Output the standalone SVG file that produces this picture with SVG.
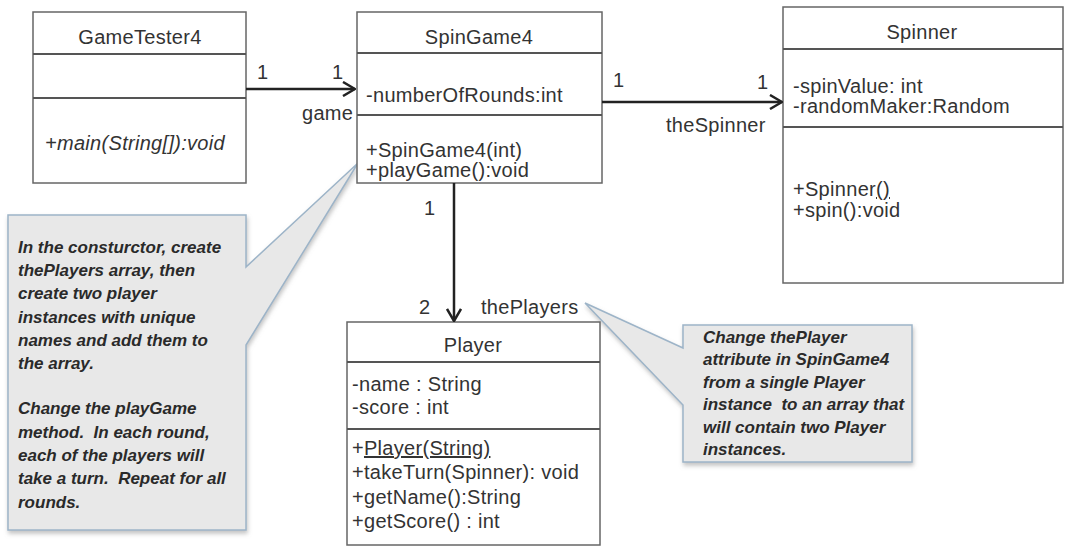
<svg xmlns="http://www.w3.org/2000/svg" width="1071" height="551" viewBox="0 0 1071 551">
<defs>
<marker id="arr" viewBox="0 0 14 16" refX="13" refY="8" markerWidth="14" markerHeight="16" markerUnits="userSpaceOnUse" orient="auto">
<path d="M1,1 L13,8 L1,15" fill="none" stroke="#222" stroke-width="2.5"/>
</marker>
<filter id="sh" x="-5%" y="-5%" width="115%" height="115%">
<feDropShadow dx="1" dy="3" stdDeviation="2" flood-color="#888" flood-opacity="0.5"/>
</filter>
</defs>
<style>
.box{fill:#fff;stroke:#666;stroke-width:1.5}
.div{stroke:#555;stroke-width:2}
.t{font-family:"Liberation Sans",Arial,sans-serif;font-size:20px;letter-spacing:0.3px;fill:#333}
.c{text-anchor:middle}
.i{font-style:italic}
.note{fill:#e8e8e8;stroke:#9db4c8;stroke-width:1.5}
.n{font-family:"Liberation Sans",Arial,sans-serif;font-size:17px;font-weight:bold;font-style:italic;fill:#2a2a2a;white-space:pre}
.conn{stroke:#222;stroke-width:2.5;fill:none}
</style>
<g id="note1">
<path class="note" filter="url(#sh)" d="M8,215 H246 V267 L358,163 L246,345 V530 H8 Z"/>
<text class="n" x="18" y="253">In the consturctor, create</text>
<text class="n" x="18" y="276">thePlayers array, then</text>
<text class="n" x="18" y="299">create two player</text>
<text class="n" x="18" y="323">instances with unique</text>
<text class="n" x="18" y="346">names and add them to</text>
<text class="n" x="18" y="369">the array.</text>
<text class="n" x="18" y="414">Change the playGame</text>
<text class="n" x="18" y="438">method.  In each round,</text>
<text class="n" x="18" y="461">each of the players will</text>
<text class="n" x="18" y="484">take a turn.  Repeat for all</text>
<text class="n" x="18" y="508">rounds.</text>
</g>
<g id="note2">
<path class="note" filter="url(#sh)" d="M683,325 H912 V462 H683 V405 L585,303 L683,348 Z"/>
<text class="n" x="703" y="343">Change thePlayer</text>
<text class="n" x="703" y="365">attribute in SpinGame4</text>
<text class="n" x="703" y="388">from a single Player</text>
<text class="n" x="703" y="410">instance  to an array that</text>
<text class="n" x="703" y="433">will contain two Player</text>
<text class="n" x="703" y="455">instances.</text>
</g>
<g id="GameTester4">
<rect class="box" x="33" y="12" width="213" height="171"/>
<line class="div" x1="33" y1="54" x2="246" y2="54"/>
<line class="div" x1="33" y1="98" x2="246" y2="98"/>
<text class="t c" x="140" y="44">GameTester4</text>
<text class="t i" x="45" y="150">+main(String[]):void</text>
</g>
<g id="SpinGame4">
<rect class="box" x="357" y="12" width="245" height="171"/>
<line class="div" x1="357" y1="53" x2="602" y2="53"/>
<line class="div" x1="357" y1="115" x2="602" y2="115"/>
<text class="t c" x="479" y="44">SpinGame4</text>
<text class="t" x="366" y="102">-numberOfRounds:int</text>
<text class="t" x="366" y="157">+SpinGame4(int)</text>
<text class="t" x="366" y="177">+playGame():void</text>
</g>
<g id="Spinner">
<rect class="box" x="783" y="7" width="280" height="276"/>
<line class="div" x1="783" y1="49" x2="1063" y2="49"/>
<line class="div" x1="783" y1="127" x2="1063" y2="127"/>
<text class="t c" x="922" y="39">Spinner</text>
<text class="t" x="793" y="93">-spinValue: int</text>
<text class="t" x="793" y="113">-randomMaker:Random</text>
<text class="t" x="793" y="196">+Spinner<tspan text-decoration="underline">()</tspan></text>
<text class="t" x="793" y="217">+spin():void</text>
</g>
<g id="Player">
<rect class="box" x="347" y="322" width="253" height="223"/>
<line class="div" x1="347" y1="362" x2="600" y2="362"/>
<line class="div" x1="347" y1="429" x2="600" y2="429"/>
<text class="t c" x="473" y="352">Player</text>
<text class="t" x="352" y="391">-name : String</text>
<text class="t" x="352" y="414">-score : int</text>
<text class="t" x="352" y="455">+<tspan text-decoration="underline">Player(String)</tspan></text>
<text class="t" x="352" y="479">+takeTurn(Spinner): void</text>
<text class="t" x="352" y="504">+getName():String</text>
<text class="t" x="352" y="528">+getScore() : int</text>
</g>
<g id="connectors">
<line class="conn" x1="246" y1="89" x2="355" y2="89" marker-end="url(#arr)"/>
<line class="conn" x1="602" y1="102" x2="782" y2="102" marker-end="url(#arr)"/>
<line class="conn" x1="454" y1="183" x2="454" y2="321" marker-end="url(#arr)"/>
<text class="t" x="257" y="79">1</text>
<text class="t" x="332" y="79">1</text>
<text class="t" x="302" y="120">game</text>
<text class="t" x="613" y="87">1</text>
<text class="t" x="757" y="89">1</text>
<text class="t" x="666" y="132">theSpinner</text>
<text class="t" x="424" y="215">1</text>
<text class="t" x="419" y="314">2</text>
<text class="t" x="481" y="314">thePlayers</text>
</g>
</svg>
